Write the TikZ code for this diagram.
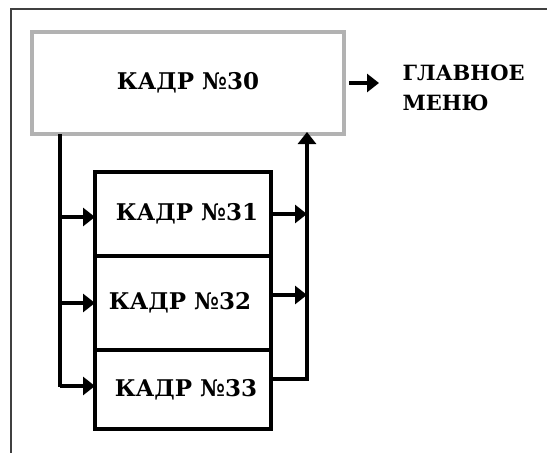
\documentclass[tikz,border=0pt]{standalone}
\usepackage{fontspec}
\setmainfont{DejaVu Serif}
\usetikzlibrary{arrows.meta,positioning,calc}

\begin{document}
\begin{tikzpicture}[
        x=1pt, y=-1pt,
        component/.style={
            draw,
            line width=4.5pt,
            minimum width=176pt,
            outer sep=0pt,
            inner sep=0pt,
            align=center,
            font=\bfseries\fontsize{23}{26}\selectfont
        },
        flow/.style={-{Triangle[length=12pt,width=18pt]}, line width=4.5pt},
        bus/.style={line width=4.5pt}
    ]
        \useasboundingbox (0,0) rectangle (547,453);

        % frame
        \draw[black!75, line width=2pt] (547,9) -- (11,9) -- (11,453);

        \node[component, draw=black!30, minimum width=312pt, minimum height=102pt] (k30) at (188,83) {КАДР №30};
        \node[component, minimum height=84pt] (k31) at (183,214) {\hspace*{8pt}КАДР №31};
        \node[component, minimum height=94pt, below=0pt of k31] (k32) {КАДР №32\hspace*{6pt}};
        \node[component, minimum height=79pt, below=0pt of k32] (k33) {\hspace*{6pt}КАДР №33};

        \node[anchor=west, align=left, font=\bfseries\fontsize{21}{30}\selectfont] (menu) at (399,88) {ГЛАВНОЕ\\МЕНЮ};

        \coordinate (busL) at (60,387);
        \coordinate (busR) at (307,379);

        \draw[flow] ([xshift=5pt]k30.east) -- ([xshift=-20pt]menu.west |- k30.east);

        % left bus
        \draw[bus] (k30.south -| busL) -- (busL);
        \draw[flow] ([yshift=-3pt]busL |- k31.west) -- ([yshift=-3pt]k31.west);
        \draw[flow] (busL |- k32.west) -- (k32.west);
        \draw[flow] ([yshift=1pt]busL -| k33.west) ++(-35pt,0) -- ([yshift=1pt]busL -| k33.west);

        % right bus
        \draw[flow] (k31.east) -- (k31.east -| busR);
        \draw[flow] ([yshift=8pt]k32.east) -- ([yshift=8pt]k32.east -| busR);
        \draw[flow] (busR -| k33.east) -- (busR) -- ([yshift=2pt]k30.south -| busR);
    \end{tikzpicture}
\end{document}
